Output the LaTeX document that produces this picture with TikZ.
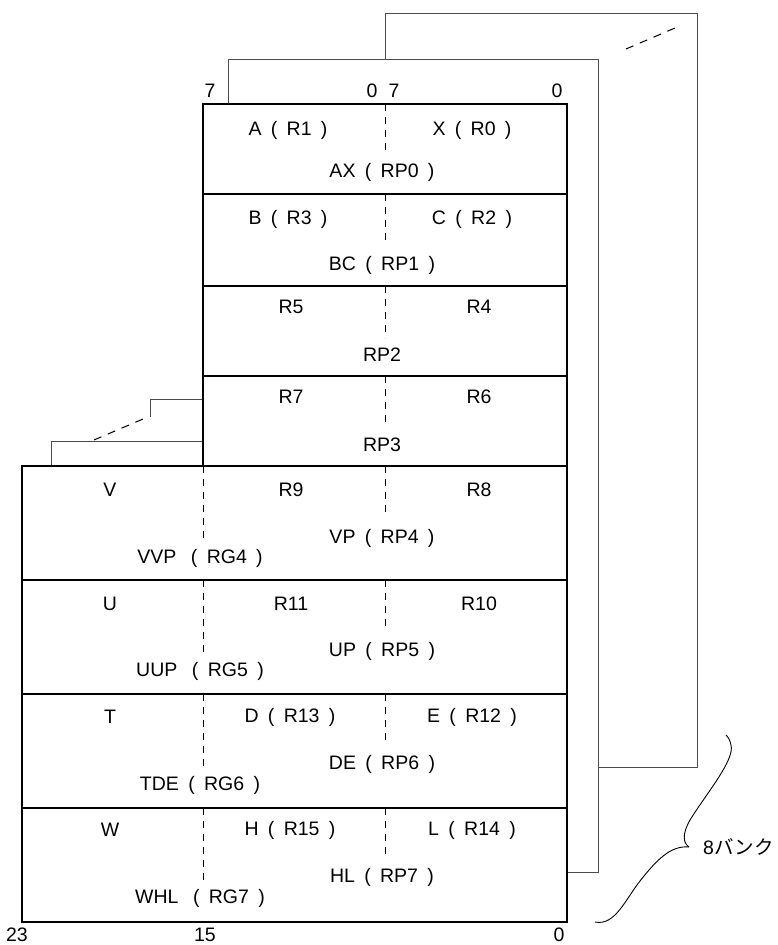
\documentclass[tikz,border=0pt]{standalone}
\usepackage{fontspec}
\setmainfont{Liberation Sans}
\newfontfamily\jpfont{Noto Sans CJK JP}
\usetikzlibrary{positioning}

\newcommand{\pgap}{\hspace{0.48em}}
\newcommand{\wgap}{\hspace{0.75em}}

\begin{document}
\begin{tikzpicture}[%
x=1pt, y=-1pt, font=\fontsize{19.5}{23}\selectfont,
regbox/.style={draw, line width=2.6pt},
rowline/.style={draw, line width=2.6pt},
bank/.style={draw=black!70, line width=1pt},
split/.style={line width=1pt, dash pattern=on 7pt off 6pt},
more/.style={line width=1pt, dash pattern=on 8pt off 7pt},
lbl/.style={inner sep=0pt, anchor=center},
brace/.style={line width=0.9pt}
]
\useasboundingbox (0,0) rectangle (778,945);

% corners of the register file
\coordinate (nw) at (203,104);
\coordinate (ne) at (567,104);
\coordinate (mid) at (203,466);
\coordinate (sw) at (22,922);
\coordinate (se) at (567,922);

% banks behind
\draw[bank] (385,59) -- (385,13) -- (697,13) -- (697,767) -- (598,767);
\draw[bank] (228,104) -- (228,59) -- (598,59) -- (598,872) -- (567,872);
\draw[bank] (203,399) -- (150,399) -- (150,417);
\draw[bank] (203,441) -- (51,441) -- (51,466);
\coordinate (tr1) at (626,49);
\coordinate (tr2) at (675,28);
\draw[more] (tr1) -- (tr2);
\coordinate (tl1) at (94,440);
\coordinate (tl2) at (143,419);
\draw[more] (tl1) -- (tl2);

% dashed byte boundaries
\foreach \y in {104,194,286,376}
  \draw[split] (385,\y) -- (385,\y+52);
\foreach \y in {466,580,694,808} {
  \draw[split] (385,\y) -- (385,\y+50);
  \draw[split] (203,\y) -- (203,\y+72);
}

% register file
\draw[regbox] (nw) rectangle (mid -| ne);
\draw[regbox] (mid -| sw) rectangle (se);
\foreach \y in {194,286,376}
  \draw[rowline] (203,\y) -- (567,\y);
\foreach \y in {580,694,808}
  \draw[rowline] (22,\y) -- (567,\y);

% bit numbers
\node[lbl] (b7h) at (210,91) {7};
\node[lbl] (b0h) at (372,91) {0};
\node[lbl] (b7l) at (394,91) {7};
\node[lbl] (b0l) at (557,91) {0};
\node[lbl] (b23) at (17,935) {23};
\node[lbl] (b15) at (205,935) {15};
\node[lbl] (b0) at (559,935) {0};

% rows
\node[lbl] (r1) at (288,130) {A\pgap(\pgap R1\pgap)};
\node[lbl] (r0) at (472,130) {X\pgap(\pgap R0\pgap)};
\node[lbl] (rp0) at (382,172) {AX\pgap(\pgap RP0\pgap)};

\node[lbl] (r3) at (288,219) {B\pgap(\pgap R3\pgap)};
\node[lbl] (r2) at (472,219) {C\pgap(\pgap R2\pgap)};
\node[lbl] (rp1) at (382,265) {BC\pgap(\pgap RP1\pgap)};

\node[lbl] (r5) at (291,307) {R5};
\node[lbl] (r4) at (479,307) {R4};
\node[lbl] (rp2) at (382,355) {RP2};

\node[lbl] (r7) at (291,397) {R7};
\node[lbl] (r6) at (479,397) {R6};
\node[lbl] (rp3) at (382,445) {RP3};

\node[lbl] (v) at (110,490) {V};
\node[lbl] (r9) at (291,490) {R9};
\node[lbl] (r8) at (479,490) {R8};
\node[lbl] (rp4) at (382,538) {VP\pgap(\pgap RP4\pgap)};
\node[lbl] (rg4) at (200,558) {VVP\wgap(\pgap RG4\pgap)};

\node[lbl] (u) at (110,604) {U};
\node[lbl] (r11) at (291,604) {R11};
\node[lbl] (r10) at (479,604) {R10};
\node[lbl] (rp5) at (382,651) {UP\pgap(\pgap RP5\pgap)};
\node[lbl] (rg5) at (200,671) {UUP\wgap(\pgap RG5\pgap)};

\node[lbl] (t) at (110,717) {T};
\node[lbl] (r13) at (290,717) {D\pgap(\pgap R13\pgap)};
\node[lbl] (r12) at (472,717) {E\pgap(\pgap R12\pgap)};
\node[lbl] (rp6) at (382,764) {DE\pgap(\pgap RP6\pgap)};
\node[lbl] (rg6) at (200,785) {TDE\pgap(\pgap RG6\pgap)};

\node[lbl] (w) at (110,830) {W};
\node[lbl] (r15) at (290,830) {H\pgap(\pgap R15\pgap)};
\node[lbl] (r14) at (472,830) {L\pgap(\pgap R14\pgap)};
\node[lbl] (rp7) at (382,877) {HL\pgap(\pgap RP7\pgap)};
\node[lbl] (rg7) at (200,898) {WHL\wgap(\pgap RG7\pgap)};

% 8 banks
\coordinate (tip) at (689,847);
\draw[brace] (tip) .. controls (670,845) and (655,862) .. (640,881)
  .. controls (625,900) and (615,926) .. (595,922);
\draw[brace] (tip) .. controls (683,843) and (682,834) .. (690,820)
  .. controls (706,794) and (735,760) .. (731,745)
  .. controls (730,740) and (728,737) .. (726,735);
\node[lbl, anchor=west] (banks) at (703,847) {8\jpfont バンク};
\end{tikzpicture}
\end{document}
